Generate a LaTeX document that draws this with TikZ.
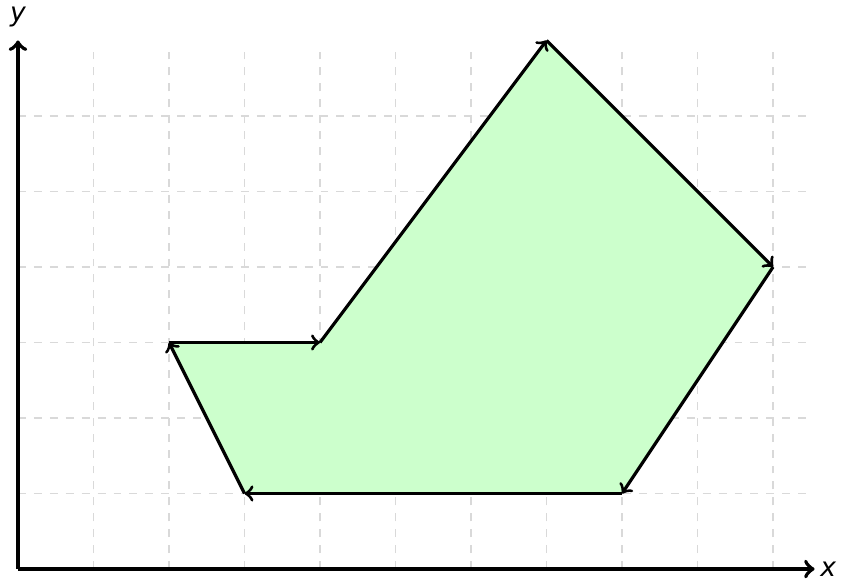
\documentclass[tikz,border=0pt]{standalone}
\usepackage{fontspec}
\setmainfont{DejaVu Sans}
\begin{document}
\begin{tikzpicture}[x=1cm,y=1cm,
  gridline/.style={gray!30, dashed, line width=0.5pt},
  axisline/.style={line width=1.5pt, ->},
  edge/.style={line width=1.2pt, ->},
  poly/.style={fill=green!20}]
\useasboundingbox (-0.238,-0.132) rectangle (10.9,7.536);
\draw[gridline] (0,0) grid (10.5,6.9);
\coordinate (A) at (2,3);
\coordinate (B) at (4,3);
\coordinate (C) at (7,7);
\coordinate (D) at (10,4);
\coordinate (E) at (8,1);
\coordinate (F) at (3,1);
\fill[poly] (A) -- (B) -- (C) -- (D) -- (E) -- (F) -- cycle;
\draw[edge] (A) -- (B);
\draw[edge] (B) -- (C);
\draw[edge] (C) -- (D);
\draw[edge] (D) -- (E);
\draw[edge] (E) -- (F);
\draw[edge] (F) -- (A);
\coordinate (O) at (0,0);
\coordinate (X) at (10.55,0);
\coordinate (Y) at (0,7.0);
\draw[axisline] (O) -- (X);
\draw[axisline] (O) -- (Y);
\node[anchor=west, inner sep=2pt] (xl) at (X) {\itshape x};
\node[anchor=south, inner sep=2pt] (yl) at (0,7.1) {\itshape y};
\end{tikzpicture}
\end{document}
